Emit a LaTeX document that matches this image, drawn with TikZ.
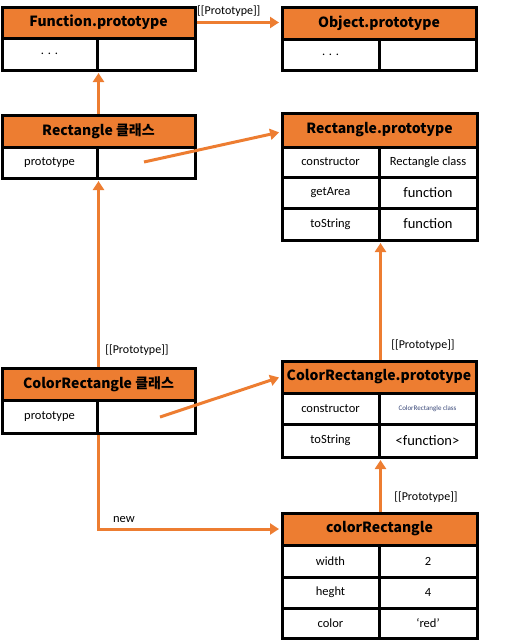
\documentclass[tikz,border=0pt]{standalone}
\usepackage{fontspec}
\setmainfont{Carlito}
\newfontfamily\hfont{Noto Sans CJK KR}
\usetikzlibrary{arrows.meta}
\definecolor{ora}{HTML}{ED7D31}
\definecolor{tinyc}{HTML}{3B4A7A}
\begin{document}
\begin{tikzpicture}[x=1pt,y=-1pt,
  cell/.style={draw=black,line width=3pt,fill=white,inner sep=0pt,font=\fontsize{12.5}{14}\selectfont},
  hdr/.style={cell,fill=ora,font=\hfont\bfseries\fontsize{14}{16}\selectfont},
  conn/.style={draw=ora,line width=3pt,-{Triangle[length=9pt,width=11pt]},shorten >=1.5pt},
  lbl/.style={inner sep=0pt,font=\fontsize{12}{14}\selectfont}]
\useasboundingbox (0,0) rectangle (511,640);
% Function.prototype
\node[hdr,minimum width=193,minimum height=31] (fph) at (98.5,22.5) {Function.prototype};
\node[cell,minimum width=95,minimum height=32] (fpL) at (49.5,54) {. . .};
\node[cell,minimum width=98,minimum height=32] (fpR) at (146,54) {};
% Object.prototype
\node[hdr,minimum width=194,minimum height=32] (oph) at (379,23) {Object.prototype};
\node[cell,minimum width=97,minimum height=31] (opL) at (330.5,54.5) {. . .};
\node[cell,minimum width=97,minimum height=31] (opR) at (427.5,54.5) {};
% Rectangle class
\node[hdr,minimum width=193,minimum height=32] (rch) at (98.5,131) {Rectangle 클래스};
\node[cell,minimum width=95,minimum height=31] (rcL) at (49.5,162.5) {prototype};
\node[cell,minimum width=98,minimum height=31] (rcR) at (146,162.5) {};
% Rectangle.prototype
\node[hdr,minimum width=195,minimum height=34] (rph) at (379.5,130) {Rectangle.prototype};
\node[cell,minimum width=97,minimum height=30] (rpL1) at (330.5,162) {constructor};
\node[cell,minimum width=98,minimum height=30] (rpR1) at (428,162) {\fontsize{12.5}{14}\selectfont Rectangle class};
\node[cell,minimum width=97,minimum height=31] (rpL2) at (330.5,192.5) {getArea};
\node[cell,minimum width=98,minimum height=31] (rpR2) at (428,192.5) {\fontsize{14.5}{16}\selectfont function};
\node[cell,minimum width=97,minimum height=32] (rpL3) at (330.5,224) {toString};
\node[cell,minimum width=98,minimum height=32] (rpR3) at (428,224) {\fontsize{14.5}{16}\selectfont function};
% ColorRectangle class
\node[hdr,minimum width=193,minimum height=32] (crh) at (98.5,384) {ColorRectangle 클래스};
\node[cell,minimum width=95,minimum height=33] (crL) at (49.5,416.5) {prototype};
\node[cell,minimum width=98,minimum height=33] (crR) at (146,416.5) {};
% ColorRectangle.prototype
\node[hdr,minimum width=194,minimum height=32] (crph) at (379,377) {ColorRectangle.prototype};
\node[cell,minimum width=97,minimum height=31] (crpL1) at (330.5,408.5) {constructor};
\node[cell,minimum width=97,minimum height=31] (crpR1) at (427.5,408.5) {\color{tinyc}\fontsize{7}{8}\selectfont ColorRectangle class};
\node[cell,minimum width=97,minimum height=33] (crpL2) at (330.5,440.5) {toString};
\node[cell,minimum width=97,minimum height=33] (crpR2) at (427.5,440.5) {\fontsize{14.5}{16}\selectfont <function>};
% colorRectangle
\node[hdr,minimum width=195,minimum height=32] (cRh) at (379.5,529) {colorRectangle};
\node[cell,minimum width=97,minimum height=32] (cRL1) at (330.5,561) {width};
\node[cell,minimum width=98,minimum height=32] (cRR1) at (428,561) {2};
\node[cell,minimum width=97,minimum height=31] (cRL2) at (330.5,592.5) {heght};
\node[cell,minimum width=98,minimum height=31] (cRR2) at (428,592.5) {4};
\node[cell,minimum width=97,minimum height=30] (cRL3) at (330.5,623) {color};
\node[cell,minimum width=98,minimum height=30] (cRR3) at (428,623) {‘red’};
% free starting points inside cells
\coordinate (s1) at (144,162);
\coordinate (s2) at (160,417);
% connectors
\draw[conn] (fph.east) -- (fph.east -| oph.west);
\node[lbl,anchor=south west] (l1) at (197,17) {[[Prototype]]};
\draw[conn] (rch.north -| rcL.east) -- (fpL.south east);
\draw[conn] (s1) -- ([yshift=-2]rph.west);
\draw[conn] (crh.north -| crL.east) -- (rcL.south east);
\node[lbl] (l2) at (137,350) {[[Prototype]]};
\draw[conn] (s2) -- (crph.west);
\draw[conn] (crph.north -| crpL1.east) -- (rpL3.south east);
\node[lbl] (l3) at (423,345) {[[Prototype]]};
\draw[conn] (cRh.north -| cRL1.east) -- (crpL2.south east);
\node[lbl] (l4) at (426,497) {[[Prototype]]};
\draw[conn] (crL.south east) |- (cRh.west);
\node[lbl,font=\fontsize{12.5}{14}\selectfont] (l5) at (124,520) {new};
\end{tikzpicture}
\end{document}
